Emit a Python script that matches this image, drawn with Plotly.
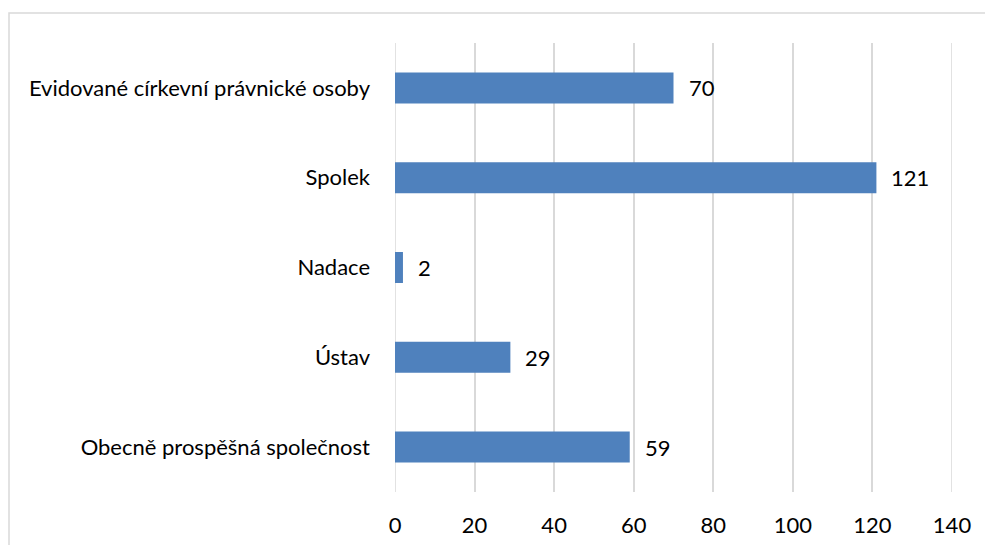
import plotly.graph_objects as go

categories = [
    "Evidované církevní právnické osoby",
    "Spolek",
    "Nadace",
    "Ústav",
    "Obecně prospěšná společnost",
]
values = [70, 121, 2, 29, 59]
x_ticks = [0, 20, 40, 60, 80, 100, 120, 140]

BAR_COLOR = "#4F81BD"
GRID_COLOR = "#D9D9D9"
FONT = "Lato, Calibri, Carlito, sans-serif"
FONT_SIZE = 22

fig = go.Figure(
    go.Bar(
        x=values,
        y=categories,
        orientation="h",
        marker=dict(color=BAR_COLOR, line=dict(width=0)),
        hoverinfo="skip",
    )
)

# value labels just past the end of each bar
for cat, val in zip(categories, values):
    fig.add_annotation(
        x=val, y=cat, text=str(val), showarrow=False,
        xanchor="left", yanchor="middle", xshift=13,
        font=dict(family=FONT, size=FONT_SIZE, color="#000000"),
    )

# gridlines on the two ends of the value range (plotly skips those at the edges)
for edge in (x_ticks[0], x_ticks[-1]):
    fig.add_shape(
        type="line", xref="x", yref="paper", x0=edge, x1=edge, y0=0, y1=1,
        line=dict(color=GRID_COLOR, width=1.5), layer="below",
    )

# outer chart frame
fig.add_shape(
    type="rect", xref="paper", yref="paper",
    x0=-0.693, y0=-0.5, x1=1.5, y1=1.0668,
    line=dict(color=GRID_COLOR, width=1.5), layer="below",
)

fig.update_layout(
    width=985, height=545,
    margin=dict(l=395, r=33, t=43, b=53),
    paper_bgcolor="white", plot_bgcolor="white",
    bargap=0.655,
    showlegend=False,
    font=dict(family=FONT, size=FONT_SIZE, color="#000000"),
    xaxis=dict(
        range=[x_ticks[0], x_ticks[-1]], tickvals=x_ticks, showgrid=True,
        gridcolor=GRID_COLOR, gridwidth=1.5, zeroline=False, showline=False,
        ticks="", ticklabelstandoff=18, automargin=False, fixedrange=True,
    ),
    yaxis=dict(
        categoryorder="array", categoryarray=categories[::-1],
        showgrid=False, zeroline=False, showline=False, ticks="",
        ticklabelstandoff=24, automargin=False, fixedrange=True,
    ),
)

fig.write_html("out.html")
